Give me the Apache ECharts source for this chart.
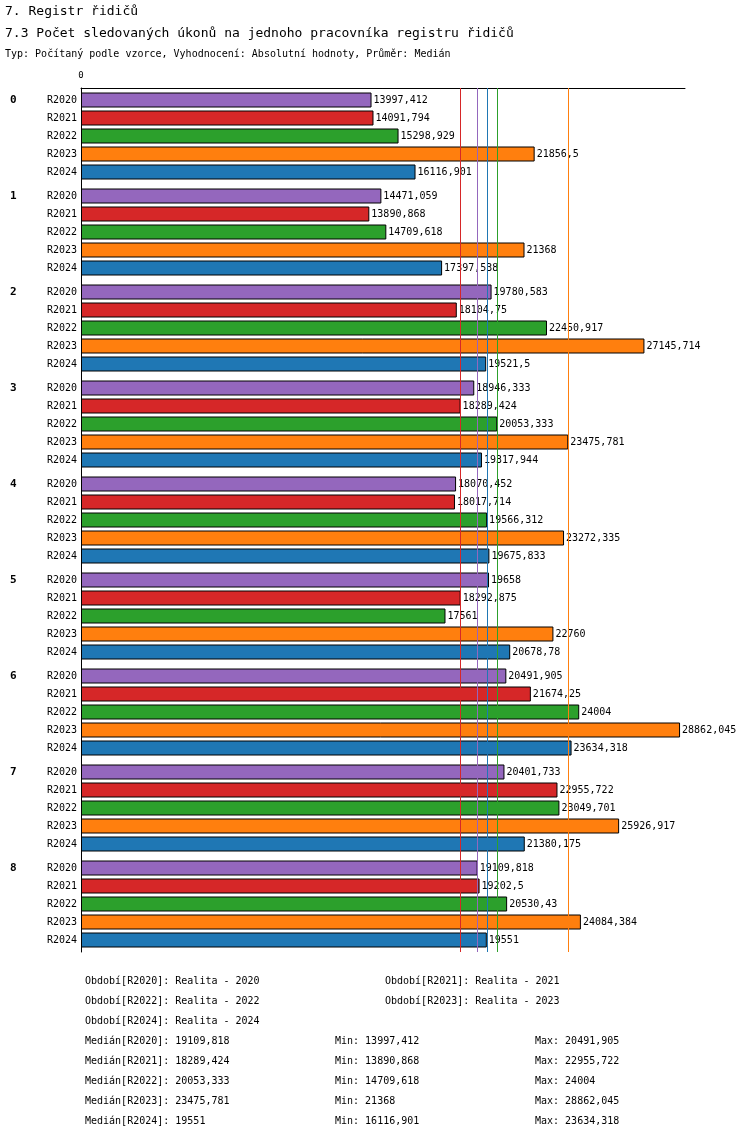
<!DOCTYPE html>
<html><head><meta charset="utf-8">
<script src="https://cdn.jsdelivr.net/npm/echarts@6/dist/echarts.min.js"></script>
<style>html,body{margin:0;padding:0;background:#fff}#c{width:750px;height:1136px}</style>
</head><body><div id="c"></div>
<script>
const groups = ['0','1','2','3','4','5','6','7','8'];
const seriesNames = ['R2020','R2021','R2022','R2023','R2024'];
const colors = ['#9467bd','#d62728','#2ca02c','#ff7f0e','#1f77b4'];
const r2020 = [13997.412,14471.059,19780.583,18946.333,18070.452,19658,20491.905,20401.733,19109.818];
const r2021 = [14091.794,13890.868,18104.75,18289.424,18017.714,18292.875,21674.25,22955.722,19202.5];
const r2022 = [15298.929,14709.618,22450.917,20053.333,19566.312,17561,24004,23049.701,20530.43];
const r2023 = [21856.5,21368,27145.714,23475.781,23272.335,22760,28862.045,25926.917,24084.384];
const r2024 = [16116.901,17397.538,19521.5,19317.944,19675.833,20678.78,23634.318,21380.175,19551];
const medians = [19109.818,18289.424,20053.333,23475.781,19551];
const mins = ['13997,412','13890,868','14709,618','21368','16116,901'];
const maxs = ['20491,905','22955,722','24004','28862,045','23634,318'];
const periods = ['Realita - 2020','Realita - 2021','Realita - 2022','Realita - 2023','Realita - 2024'];
const values = [r2020,r2021,r2022,r2023,r2024];

const mono = 'DejaVu Sans Mono';
const fmt = v => String(v).replace('.', ',');

const texts = [
  {text:'7. Registr řidičů', left:0, top:0, textStyle:{fontFamily:mono,fontSize:13,fontWeight:'normal',color:'#000'}},
  {text:'7.3 Počet sledovaných úkonů na jednoho pracovníka registru řidičů', left:0, top:22, textStyle:{fontFamily:mono,fontSize:13,fontWeight:'normal',color:'#000'}},
  {text:'Typ: Počítaný podle vzorce, Vyhodnocení: Absolutní hodnoty, Průměr: Medián', left:0, top:44, textStyle:{fontFamily:mono,fontSize:10,fontWeight:'normal',color:'#000'}}
];
const small = {fontFamily:mono,fontSize:10,fontWeight:'normal',color:'#000'};
const pPos = [[80,971],[380,971],[80,991],[380,991],[80,1011]];
seriesNames.forEach((n,i)=>{
  texts.push({text:'Období['+n+']: '+periods[i], left:pPos[i][0], top:pPos[i][1], textStyle:small});
  const y = 1031 + i*20;
  texts.push({text:'Medián['+n+']: '+fmt(medians[i]), left:80, top:y, textStyle:small});
  texts.push({text:'Min: '+mins[i], left:330, top:y, textStyle:small});
  texts.push({text:'Max: '+maxs[i], left:530, top:y, textStyle:small});
});

const series = seriesNames.map((n,i)=>({
  name:n, type:'bar', data:values[i], barWidth:15, barGap:'20%',
  itemStyle:{color:colors[i], borderColor:'#000', borderWidth:1},
  label:{show:true, position:'right', distance:2, fontFamily:mono, fontSize:10, color:'#000',
    formatter:p=>fmt(p.value)},
  labelLayout: null,
  markLine:{silent:true, symbol:'none', label:{show:false}, animation:false,
    lineStyle:{color:colors[i], type:'solid', width:1},
    data:[{xAxis:medians[i]}]}
}));
// series name labels on the left, via a second label-only bar set
seriesNames.forEach((n,i)=>{
  series.push({
    type:'bar', data:values[i].map(()=>0.0001), barWidth:15, barGap:'20%', silent:true,
    itemStyle:{color:'transparent'},
    label:{show:true, position:[-4,7.5], align:'right', verticalAlign:'middle',
      fontFamily:mono, fontSize:10, color:'#000',
      formatter:p=> i===0 ? '{g|'+groups[p.dataIndex]+'}{s|'+n+'}' : n,
      rich:{g:{fontFamily:mono,fontSize:11,fontWeight:'bold',width:37,align:'left'},
            s:{fontFamily:mono,fontSize:10}}}
  });
});
// overlay so label-only bars share slots with real bars
series.slice(5).forEach(s=>{s.xAxisIndex=0;s.yAxisIndex=1;});

const chart = echarts.init(document.getElementById('c'));
chart.setOption({
  animation:false,
  title:texts,
  grid:{left:81, top:88, width:604, height:864},
  xAxis:{type:'value', position:'top', min:0, max:29100, interval:29100,
    axisLine:{show:true, lineStyle:{color:'#000'}}, axisTick:{show:false}, splitLine:{show:false},
    axisLabel:{fontFamily:mono, fontSize:9, color:'#000', formatter:v=>v===0?'0':''}},
  yAxis:[
    {type:'category', data:groups, inverse:true, axisLine:{show:true,onZero:false,lineStyle:{color:'#000'}},
     axisTick:{show:false}, axisLabel:{show:false}},
    {type:'category', data:groups, inverse:true, position:'left', show:false}
  ],
  series:series
});
</script></body></html>
